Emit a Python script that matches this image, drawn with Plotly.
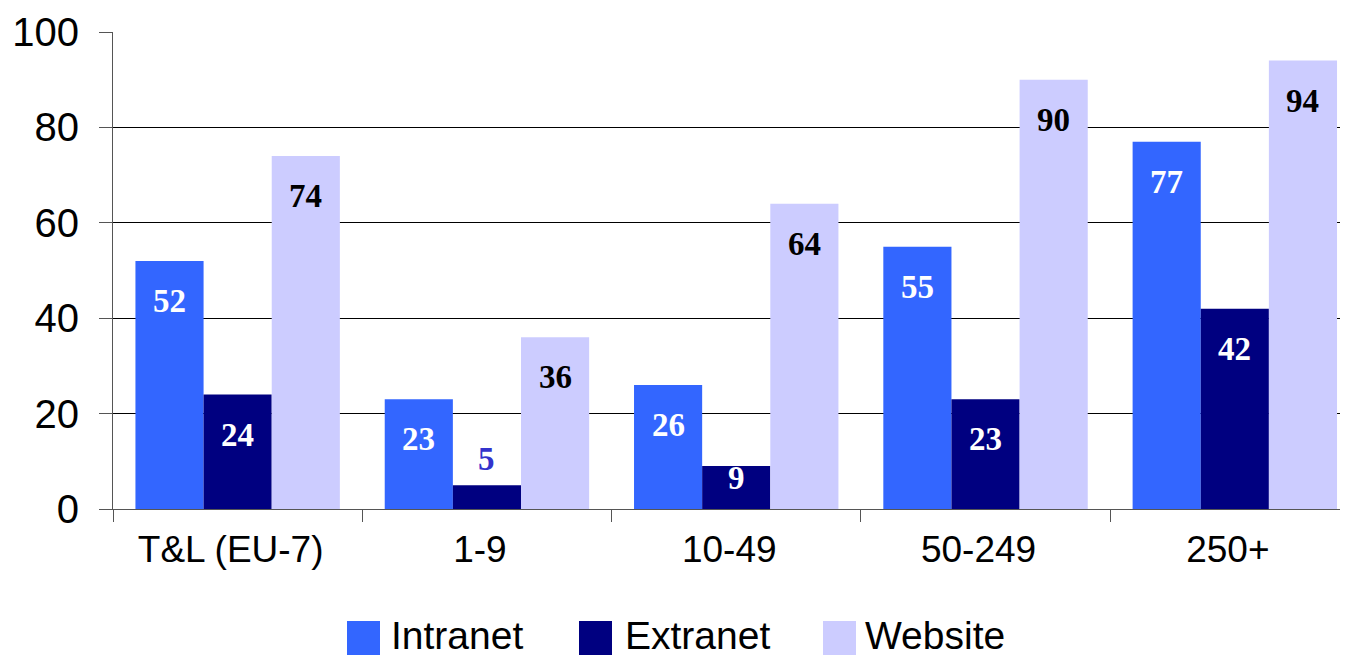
import plotly.graph_objects as go

categories = ["T&L (EU-7)", "1-9", "10-49", "50-249", "250+"]
intranet = [52, 23, 26, 55, 77]
extranet = [24, 5, 9, 23, 42]
website = [74, 36, 64, 90, 94]

series = [
    ("Intranet", intranet, "#3366FF", "white"),
    ("Extranet", extranet, "#000080", "white"),
    ("Website", website, "#CCCCFF", "black"),
]

OFF = 8  # page body margin
W, H = 1348 - OFF, 655 - OFF
L, R, T, B = 113 - OFF, 0, 32 - OFF, 146
PW, PH = W - L - R, H - T - B


def px_x(px):
    return (px - OFF - L) / PW


def px_y(py):
    return (H - B - (py - OFF)) / PH


fig = go.Figure()
for name, vals, col, _ in series:
    fig.add_trace(go.Bar(name=name, x=categories, y=vals, marker=dict(color=col, line=dict(width=0)),
                         offsetgroup=name, showlegend=False))

# data labels
offsets = {"Intranet": -1, "Extranet": 0, "Website": 1}
bar_w = (1 - 0.18) / 3
for name, vals, col, tcol in series:
    for i, v in enumerate(vals):
        xpos = i + offsets[name] * bar_w
        if v < 7:
            ys, c = 26, "#3333CC"
        elif v < 12:
            ys, c = -12, tcol
        else:
            ys, c = -40, tcol
        fig.add_annotation(x=xpos, y=v, xref="x", yref="y", text=f"<b>{v}</b>", showarrow=False,
                           yshift=ys, font=dict(family="Times New Roman, Liberation Serif, serif", size=33, color=c))

# legend (drawn swatches + labels)
legend_items = [("Intranet", "#3366FF", 347, 393), ("Extranet", "#000080", 579, 627), ("Website", "#CCCCFF", 823, 867)]
for name, col, sx, tx in legend_items:
    fig.add_shape(type="rect", xref="paper", yref="paper", x0=px_x(sx), x1=px_x(sx + 33),
                  y0=px_y(655), y1=px_y(621), fillcolor=col, line=dict(width=0), layer="above")
    fig.add_annotation(xref="paper", yref="paper", x=px_x(tx - 3), y=px_y(636), xanchor="left", yanchor="middle",
                       text=name, showarrow=False, borderpad=0, font=dict(size=39, color="black"))

fig.update_layout(
    width=W, height=H,
    margin=dict(l=L, r=R, t=T, b=B),
    barmode="group", bargap=0.18, bargroupgap=0,
    plot_bgcolor="white", paper_bgcolor="white",
    font=dict(family="Arial, Liberation Sans, sans-serif", size=38, color="black"),
    showlegend=False,
)
fig.update_xaxes(
    type="category", range=[-0.5, 4.454], tickson="boundaries", ticks="outside", ticklen=12,
    tickcolor="#555555", showline=True, linecolor="#555555", linewidth=1, showgrid=False,
    tickfont=dict(size=37), ticklabelstandoff=8, ticklabelshift=-7, automargin=False,
)
fig.update_yaxes(
    range=[0, 100], tickvals=[0, 20, 40, 60, 80, 100], ticks="outside", ticklen=13,
    tickcolor="#555555", showline=True, linecolor="#555555", linewidth=1,
    showgrid=True, gridcolor="black", gridwidth=1, zeroline=False,
    tickfont=dict(size=40), ticklabelstandoff=12, automargin=False,
)
fig.write_html("out.html")
